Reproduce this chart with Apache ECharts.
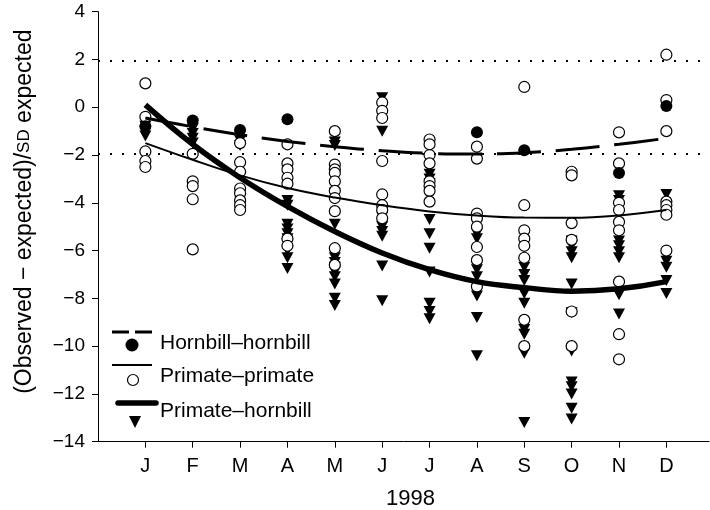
<!DOCTYPE html>
<html>
<head>
<meta charset="utf-8">
<script src="https://cdn.jsdelivr.net/npm/echarts@6/dist/echarts.min.js"></script>
<style>
  html, body { margin: 0; padding: 0; background: #fff; }
  #chart { width: 710px; height: 510px; }
</style>
</head>
<body>
<div id="chart"></div>
<script>
var months = ['J', 'F', 'M', 'A', 'M', 'J', 'J', 'A', 'S', 'O', 'N', 'D'];
var yearLabel = '1998';
var critical = [1.96, -1.96];

// points, one list per month
var hhPts = [
    [-0.8], [-0.55], [-0.95], [-0.5], [], [], [],
    [-1.05], [-1.8], [], [-2.75], [0.05]
];
var ppPts = [
    [1.0, -0.4, -1.85, -2.25, -2.5],
    [-1.95, -3.1, -3.3, -3.85, -5.95],
    [-1.5, -2.3, -2.7, -3.4, -3.6, -3.9, -4.1, -4.3],
    [-1.55, -2.35, -2.6, -2.95, -3.2, -5.5, -5.8],
    [-1.0, -2.4, -2.6, -2.75, -3.1, -3.5, -3.8, -4.35, -5.9, -6.6],
    [0.2, -0.15, -0.45, -2.25, -3.65, -4.1, -4.3, -4.65],
    [-1.35, -1.55, -2.0, -2.35, -3.1, -3.3, -3.5, -3.95],
    [-1.65, -2.15, -4.45, -4.65, -5.0, -5.85, -6.4, -7.5],
    [0.85, -4.1, -5.15, -5.5, -5.8, -6.3, -8.9, -10.0],
    [-2.7, -2.85, -4.85, -5.55, -8.55, -10.0],
    [-1.05, -2.35, -4.0, -4.3, -4.8, -5.15, -7.3, -9.5, -10.55],
    [2.2, 0.3, -1.0, -3.95, -4.1, -4.3, -4.5, -6.0]
];
var phPts = [
    [-0.8, -1.0, -1.2],
    [-0.7, -0.9, -1.1, -1.3, -1.5],
    [-1.2, -1.4, -1.6],
    [-3.9, -4.1, -4.9, -5.1, -5.3, -5.5, -5.7, -6.0, -6.3, -6.75],
    [-1.45, -1.6, -3.6, -4.9, -6.3, -6.5, -6.7, -6.9, -7.1, -7.4, -8.0, -8.3],
    [0.4, -1.0, -4.3, -4.6, -5.0, -5.2, -5.4, -6.65, -8.1],
    [-2.8, -3.0, -3.2, -4.7, -5.3, -5.9, -6.9, -8.2, -8.55, -8.85],
    [-5.3, -5.5, -6.8, -7.1, -7.9, -8.8, -10.4],
    [-6.7, -7.0, -7.25, -7.8, -8.2, -9.3, -9.5, -10.3, -13.2],
    [-5.6, -5.8, -6.05, -6.3, -7.4, -8.6, -10.2, -11.5, -11.7, -12.0, -12.6, -13.05],
    [-3.7, -3.9, -4.2, -5.6, -5.8, -6.05, -6.3, -7.85, -8.65],
    [-3.65, -6.45, -6.7, -7.25, -7.8]
];

// fitted curves read at each month
var hhFit = [-0.45, -0.82, -1.15, -1.43, -1.65, -1.82, -1.93, -1.96, -1.9, -1.76, -1.55, -1.3];
var ppFit = [-1.5, -2.2, -2.85, -3.38, -3.78, -4.1, -4.36, -4.53, -4.62, -4.63, -4.53, -4.3];
var phFit = [0.1, -1.55, -2.95, -4.15, -5.2, -6.1, -6.8, -7.3, -7.55, -7.7, -7.6, -7.3];

var legendNames = ['Hornbill\u2013hornbill', 'Primate\u2013primate', 'Primate\u2013hornbill'];

function toXY(perMonth) {
    var out = [];
    perMonth.forEach(function (vals, i) {
        vals.forEach(function (v) { out.push([i + 1, v]); });
    });
    return out;
}
function fitXY(vals) {
    return vals.map(function (v, i) { return [i + 1, v]; });
}

var font = 'Liberation Sans, Arial, Helvetica, sans-serif';
var monthPos = months.map(function (m, i) { return i + 1; });
var myChart = echarts.init(document.getElementById('chart'));

var option = {
    animation: false,
    backgroundColor: '#fff',
    grid: { left: 98, right: 1, top: 11.7, bottom: 68.3, containLabel: false, outerBoundsMode: 'none' },
    xAxis: {
        type: 'value',
        min: 0,
        max: 12.9,
        name: yearLabel,
        nameLocation: 'middle',
        nameGap: 46,
        nameTextStyle: { fontFamily: font, fontSize: 22, color: '#000', padding: [0, 0, 0, 14] },
        axisLine: { onZero: false, lineStyle: { color: '#000', width: 1 } },
        axisTick: { show: true, length: 6, lineStyle: { color: '#000' }, customValues: monthPos },
        axisLabel: {
            fontFamily: font, fontSize: 20, color: '#000', margin: 15,
            customValues: monthPos,
            formatter: function (v) { return months[Math.round(v) - 1] || ''; }
        },
        splitLine: { show: false }
    },
    yAxis: {
        type: 'value',
        min: -14,
        max: 4,
        interval: 2,
        name: '(Observed \u2212 expected)/{sc|SD} expected',
        nameLocation: 'middle',
        nameGap: 62,
        nameTextStyle: {
            fontFamily: font, fontSize: 23, color: '#000', padding: [0, 0, 0, 30],
            rich: { sc: { fontFamily: font, fontSize: 17, color: '#000' } }
        },
        axisLine: { show: true, onZero: false, lineStyle: { color: '#000', width: 1 } },
        axisTick: { show: true, length: 6, lineStyle: { color: '#000' } },
        axisLabel: {
            fontFamily: font, fontSize: 19, color: '#000', margin: 13,
            formatter: function (v) { return String(v).replace('-', '\u2212'); }
        },
        splitLine: { show: false }
    },
    graphic: [
        // legend, drawn by hand: line above marker, text to the right
        { type: 'line', shape: { x1: 112, y1: 332, x2: 153, y2: 332 }, style: { stroke: '#000', lineWidth: 3, lineDash: [17, 6] } },
        { type: 'circle', shape: { cx: 132, cy: 345, r: 6.5 }, style: { fill: '#000' } },
        { type: 'text', left: 160, top: 333, style: { text: legendNames[0], fontFamily: font, fontSize: 21, fill: '#000' } },

        { type: 'line', shape: { x1: 112, y1: 365, x2: 152, y2: 365 }, style: { stroke: '#000', lineWidth: 2 } },
        { type: 'circle', shape: { cx: 133, cy: 380, r: 5.5 }, style: { fill: '#fff', stroke: '#000', lineWidth: 1.2 } },
        { type: 'text', left: 160, top: 366, style: { text: legendNames[1], fontFamily: font, fontSize: 21, fill: '#000' } },

        { type: 'line', shape: { x1: 118, y1: 403, x2: 156, y2: 403 }, style: { stroke: '#000', lineWidth: 5.5, lineCap: 'round' } },
        { type: 'polygon', shape: { points: [[129, 416], [141, 416], [135, 428]] }, style: { fill: '#000' } },
        { type: 'text', left: 160, top: 401, style: { text: legendNames[2], fontFamily: font, fontSize: 21, fill: '#000' } }
    ],
    series: [
        {
            name: legendNames[2] + ' points',
            type: 'scatter',
            symbol: 'triangle',
            symbolRotate: 180,
            symbolSize: [12, 11],
            itemStyle: { color: '#000', opacity: 1 },
            z: 2,
            data: toXY(phPts),
            markLine: {
                silent: true,
                symbol: 'none',
                label: { show: false },
                lineStyle: { color: '#000', width: 2, type: [2, 10], opacity: 1 },
                data: critical.map(function (c) { return { yAxis: c }; })
            }
        },
        {
            name: legendNames[1] + ' points',
            type: 'scatter',
            symbol: 'circle',
            symbolSize: 11,
            itemStyle: { color: '#fff', borderColor: '#000', borderWidth: 1.2, opacity: 1 },
            z: 3,
            data: toXY(ppPts)
        },
        {
            name: legendNames[0] + ' points',
            type: 'scatter',
            symbol: 'circle',
            symbolSize: 12,
            itemStyle: { color: '#000', opacity: 1 },
            z: 4,
            data: toXY(hhPts)
        },
        {
            name: legendNames[0],
            type: 'line',
            smooth: 0.4,
            showSymbol: false,
            lineStyle: { color: '#000', width: 3, type: [44, 15] },
            z: 5,
            data: fitXY(hhFit)
        },
        {
            name: legendNames[1],
            type: 'line',
            smooth: 0.4,
            showSymbol: false,
            lineStyle: { color: '#000', width: 2 },
            z: 5,
            data: fitXY(ppFit)
        },
        {
            name: legendNames[2],
            type: 'line',
            smooth: 0.4,
            showSymbol: false,
            lineStyle: { color: '#000', width: 5.5 },
            z: 6,
            data: fitXY(phFit)
        }
    ]
};

option && myChart.setOption(option);
</script>
</body>
</html>
